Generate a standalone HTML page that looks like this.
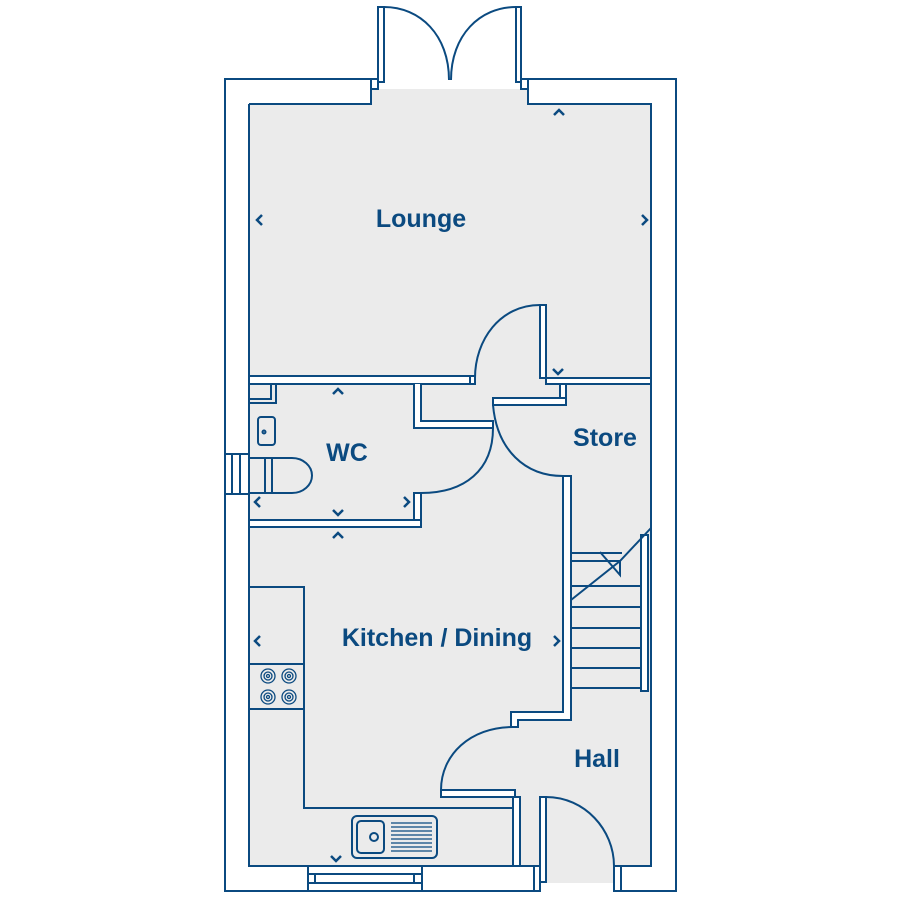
<!DOCTYPE html>
<html><head><style>html,body{margin:0;padding:0;background:#fff}svg{display:block}</style></head><body>
<svg width="900" height="900" viewBox="0 0 900 900" xmlns="http://www.w3.org/2000/svg" font-family="Liberation Sans, sans-serif">
<g fill="none" stroke="#0b4a80" stroke-width="2">
<rect x="226" y="80" width="449" height="810" fill="#fff" stroke="none"/>
<path d="M372,79 H225 V891 H534 M528,79 H676 V891 H621"/>
<path d="M249,104 H371 V89 H528 V104 H651 V866 H620 V883 H546 V866 H249 Z" fill="#ebebeb" stroke="none"/>
<path d="M249,104 H371 V89 H378 M521,89 H528 V104 H651 V866 H620 M540,866 H249 V104"/>
<rect x="371" y="79" width="7" height="10" fill="#fff"/>
<rect x="521" y="79" width="7" height="10" fill="#fff"/>
<rect x="378" y="7" width="6" height="75" fill="#fff"/>
<rect x="516" y="7" width="5" height="75" fill="#fff"/>
<path d="M384,7 C420,7 449,35 449,80 M516,7 C480,7 451,35 451,80"/>
<rect x="308" y="866" width="114" height="25" fill="#fff"/>
<path d="M308,874 H422 M308,883 H422 M315,874 V883 M414,874 V883"/>
<rect x="534" y="866" width="6" height="25" fill="#fff"/>
<rect x="540" y="797" width="6" height="85" fill="#fff"/>
<rect x="614" y="866" width="7" height="25" fill="#fff"/>
<path d="M546,797 C585,797 614,830 614,866"/>
<rect x="225" y="454" width="24" height="40" fill="#fff"/>
<path d="M232,454 V494 M240,454 V494"/>
<path d="M249,376 H470 V384 H249 Z" fill="#fff"/>
<path d="M249,384 V399 H271 V384 M249,403 H276 V384" fill="none"/>
<rect x="540" y="305" width="6" height="73" fill="#fff"/>
<path d="M540,305 C500,305 475,340 475,378"/>
<rect x="470" y="376" width="5" height="8" fill="#fff"/>
<rect x="546" y="378" width="105" height="6" fill="#fff"/>
<path d="M414,384 V428 H493 V421 H421 V384" fill="#fff"/>
<path d="M493,428 C493,470 465,493 421,493"/>
<rect x="414" y="493" width="7" height="34" fill="#fff"/>
<rect x="249" y="520" width="172" height="7" fill="#fff"/>
<rect x="493" y="398" width="73" height="7" fill="#fff"/>
<rect x="560" y="384" width="6" height="14" fill="#fff"/>
<path d="M493,405 C497,450 525,476 563,476"/>
<path d="M511,712 H563 V476 H571 V720 H518 V727 H511 Z" fill="#fff"/>
<path d="M513,727 C470,727 441,755 441,790"/>
<rect x="441" y="790" width="74" height="7" fill="#fff"/>
<rect x="513" y="797" width="7" height="69" fill="#fff"/>
<path d="M571,553 H622 M571,561 H620 M571,586 H641 M571,607 H641 M571,628 H641 M571,648 H641 M571,668 H641 M571,688 H641"/>
<rect x="641" y="535" width="7" height="156" fill="#fff"/>
<path d="M651,528 L620,561 L571,600 M600,552 L620,575 V561"/>
<path d="M249,587 H304 V808 H513 M249,664 H304 M249,709 H304"/>
<rect x="352" y="816" width="85" height="42" rx="5"/>
<rect x="357" y="821" width="27" height="32" rx="4"/>
<circle cx="374" cy="837" r="4"/>
<path d="M391,823 H432 M391,827 H432 M391,831 H432 M391,835 H432 M391,839 H432 M391,843 H432 M391,847 H432 M391,851 H432" stroke-width="1.2"/>
<g stroke-width="1.3">
<circle cx="268" cy="676" r="7"/><circle cx="268" cy="676" r="4"/><circle cx="268" cy="676" r="1.5"/>
<circle cx="289" cy="676" r="7"/><circle cx="289" cy="676" r="4"/><circle cx="289" cy="676" r="1.5"/>
<circle cx="268" cy="697" r="7"/><circle cx="268" cy="697" r="4"/><circle cx="268" cy="697" r="1.5"/>
<circle cx="289" cy="697" r="7"/><circle cx="289" cy="697" r="4"/><circle cx="289" cy="697" r="1.5"/>
</g>
<rect x="258" y="417" width="17" height="28" rx="3"/>
<circle cx="264" cy="432" r="1.5"/>
<path d="M249,458 H272 V493 H249 M265,458 V493 M272,458 H292 A20,17.5 0 0 1 292,493 H272"/>
</g>
<g fill="none" stroke="#0b4a80" stroke-width="2.5">
<path d="M554,115 l5,-5 l5,5"/>
<path d="M262,215 l-5,5 l5,5"/>
<path d="M642,215 l5,5 l-5,5"/>
<path d="M333,394 l5,-5 l5,5"/>
<path d="M260,497 l-5,5 l5,5"/>
<path d="M404,497 l5,5 l-5,5"/>
<path d="M333,510 l5,5 l5,-5"/>
<path d="M333,538 l5,-5 l5,5"/>
<path d="M260,636 l-5,5 l5,5"/>
<path d="M554,636 l5,5 l-5,5"/>
<path d="M331,856 l5,5 l5,-5"/>
<path d="M553,369 l5,5 l5,-5"/>
</g>
<g fill="#0b4a80" font-weight="bold" font-size="25">
<text x="421" y="227" text-anchor="middle">Lounge</text>
<text x="347" y="461" text-anchor="middle">WC</text>
<text x="605" y="446" text-anchor="middle">Store</text>
<text x="437" y="646" text-anchor="middle">Kitchen / Dining</text>
<text x="597" y="767" text-anchor="middle">Hall</text>
</g>
</svg>
</body></html>
